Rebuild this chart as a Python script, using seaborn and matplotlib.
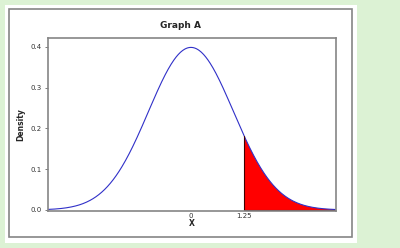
import numpy as np
import pandas as pd
import matplotlib
matplotlib.use("Agg")
import matplotlib.pyplot as plt
import seaborn as sns
from matplotlib.patches import Rectangle

# ---- data (theoretical standard normal distribution) ----
mean = 0.0
sd = 1.0
x_min, x_max = -3.4, 3.4
cutoff = 1.25
x_ticks = [0, 1.25]
x_tick_labels = ["0", "1.25"]
y_ticks = [0.0, 0.1, 0.2, 0.3, 0.4]
y_tick_labels = ["0.0", "0.1", "0.2", "0.3", "0.4"]
title = "Graph A"
x_label = "X"
y_label = "Density"

xs = np.linspace(x_min, x_max, 400)
dens = np.exp(-0.5 * ((xs - mean) / sd) ** 2) / (sd * np.sqrt(2 * np.pi))
df = pd.DataFrame({"x": xs, "density": dens})

sns.set_style("white")
plt.rcParams["font.family"] = ["DejaVu Sans"]

fig = plt.figure(figsize=(4.0, 2.48), dpi=100)
fig.patch.set_facecolor("#dcf2d4")
W, H = 400.0, 248.0
# white panel and grey frame
fig.patches.append(Rectangle((5 / W, 1 - 243 / H), 352 / W, 238 / H, transform=fig.transFigure,
                             facecolor="white", edgecolor="none", zorder=-3))
fig.patches.append(Rectangle((9 / W, 1 - 237 / H), 343 / W, 228 / H, transform=fig.transFigure,
                             facecolor="none", edgecolor="#858585", linewidth=1.2, zorder=-2))

ax = fig.add_axes([48 / W, 1 - 211 / H, 288 / W, 173 / H])
ax.set_facecolor("white")

sns.lineplot(data=df, x="x", y="density", ax=ax, color="#3030c8", linewidth=0.8)
tail = df[df["x"] >= cutoff]
ax.fill_between(tail["x"], 0, tail["density"], facecolor="#ff0000", edgecolor="none")
ax.plot([cutoff, cutoff], [0, np.interp(cutoff, xs, dens)], color="#400000", linewidth=0.8)
ax.plot([cutoff, x_max], [0, 0], color="#500000", linewidth=0.8)

ax.set_xlim(-3.37, 3.42)
ax.set_ylim(-0.0025, 0.422)
ax.set_xticks(x_ticks)
ax.set_xticklabels(x_tick_labels, fontsize=5, color="#333333")
ax.set_yticks(y_ticks)
ax.set_yticklabels(y_tick_labels, fontsize=5, color="#333333")
ax.tick_params(axis="x", length=0, pad=1.5)
ax.tick_params(axis="y", length=2.5, width=0.6, color="#666666", pad=2, left=True)
for s in ax.spines.values():
    s.set_color("#858585")
    s.set_linewidth(1.2)

ax.set_xlabel(x_label, fontsize=5.5, fontweight="bold", labelpad=0)
ax.set_ylabel(y_label, fontsize=5.5, fontweight="bold", labelpad=4)
fig.text(180 / W, 1 - 26 / H, title, ha="center", va="center", fontsize=6.5, fontweight="bold")

fig.savefig("out.png", dpi=100, facecolor=fig.get_facecolor())
